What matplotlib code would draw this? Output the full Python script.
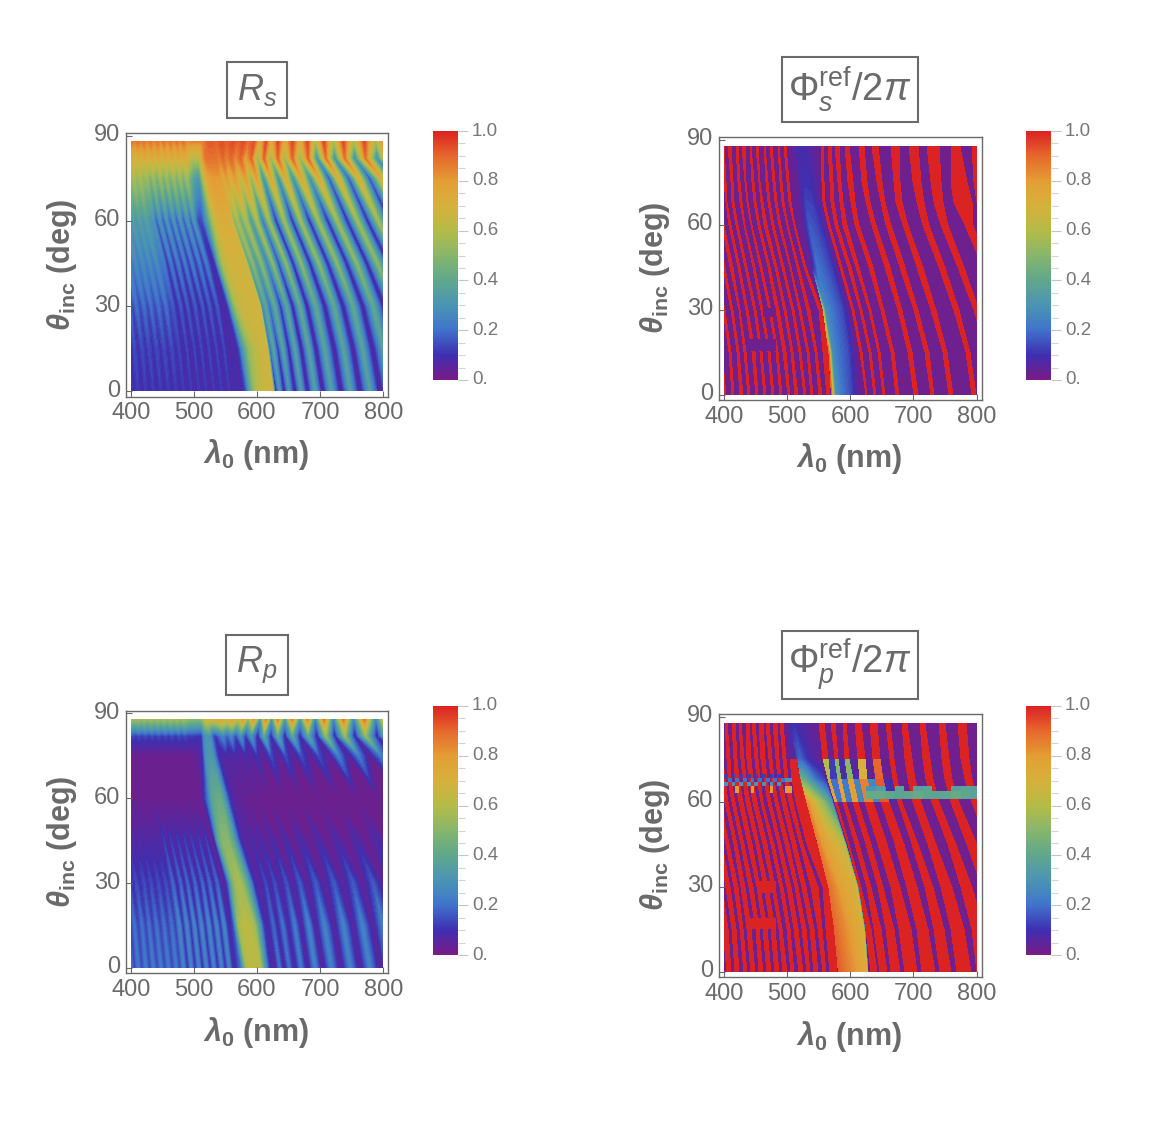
# -*- coding: utf-8 -*-
import numpy as np
import matplotlib
matplotlib.use('Agg')
import matplotlib.pyplot as plt
from matplotlib.cm import ScalarMappable
from matplotlib.colors import LinearSegmentedColormap, Normalize
from matplotlib.patches import Rectangle
from matplotlib.ticker import FixedLocator
from matplotlib.transforms import ScaledTranslation

plt.rcParams['font.family'] = ['Liberation Sans', 'DejaVu Sans']
plt.rcParams['mathtext.fontset'] = 'custom'
plt.rcParams['mathtext.rm'] = 'Liberation Sans'
plt.rcParams['mathtext.it'] = 'Liberation Sans:italic'
plt.rcParams['mathtext.bf'] = 'Liberation Sans:bold'
plt.rcParams['mathtext.bfit'] = 'Liberation Sans:italic:bold'

GREY = '#6a6a6a'

rainbow = ['#781c86', '#3f2fb0', '#3f74cb', '#4b94b4', '#5fa78c', '#87b66c',
           '#b5bb48', '#d6b03c', '#e49e36', '#e5682d', '#dc2323']

# reflectance maps: crest and trough tracks, nm per angle
r_theta = [0, 15, 30, 45, 60, 75, 82, 88]

r_left_wl = [
    [400,406,412,418,424,430,436,442,448,454,460,466,472,478,484,490,496,502,508,514,520,526,532,538,544,550,556,562,568],
    [394,400,406,412,418,424,429,435,441,447,453,459,465,471,477,483,489,495,501,506,512,518,524,530,536,542,548,554,559],
    [386,392,398,403,409,415,421,427,432,438,444,450,456,461,467,473,479,485,490,496,502,508,514,519,525,531,537,543,548],
    [374,380,385,391,396,402,408,413,419,425,430,436,441,447,453,458,464,469,475,481,486,492,497,503,509,514,520,526,531],
    [360,365,371,376,382,387,392,398,403,409,414,419,425,430,436,441,446,452,457,463,468,473,479,484,490,495,500,506,511],
    [352,357,363,368,373,378,384,389,394,399,405,410,415,420,426,431,436,441,447,452,457,462,468,473,478,483,489,494,500],
    [350,355,361,366,371,376,381,387,392,397,402,408,413,418,423,429,434,439,444,450,455,460,465,471,476,481,486,492,497],
    [348,353,358,364,369,374,379,384,390,395,400,405,411,416,421,426,431,437,442,447,452,457,463,468,473,478,483,489,494],
]
r_band_wl = [
    [575,583,590,597,605,612,619,625],
    [563,571,579,587,596,603,610,616],
    [550,555,560,566,573,584,595,605],
    [533,536,540,546,554,563,573,583],
    [514,522,529,536,543,549,555,560],
    [508,514,519,525,530,534,538,542],
    [508,512,516,520,524,527,530,534],
    [511,514,516,518,520,522,524,527],
]
r_right_wl = [
    [629,636,643,651,660,670,680,692,704,718,733,748,763,779,795,812,830,848,866,885,905,927,950,975,1000,1030,1060],
    [620,626,633,641,650,660,670,682,693,707,722,737,752,767,783,800,818,835,853,872,891,913,936,960,985,1014,1044],
    [607,614,620,628,637,647,656,668,679,693,707,722,736,752,767,784,801,818,836,854,873,895,917,941,965,994,1023],
    [587,593,600,607,616,625,634,646,657,670,684,698,712,727,742,758,774,791,808,826,844,865,886,910,933,961,989],
    [563,569,575,583,591,600,609,619,630,643,656,669,683,697,712,727,743,759,775,792,810,830,850,873,895,922,949],
    [546,552,557,565,573,582,590,600,610,622,634,645,657,670,684,698,714,729,745,761,778,797,817,839,860,886,912],
    [540,546,552,559,566,574,582,591,601,611,622,633,644,656,668,681,695,709,723,739,755,772,790,807,825,843,862],
    [536,544,552,561,570,578,586,595,605,614,623,633,644,656,668,680,692,706,721,737,753,770,788,806,825,843,862],
]

rs_vals = [
    [12,8]*7+[12,6]*7+[10]+[5,15,40,55,62,65,66,66]+[5,30,4,30,3,33]+[3,35]*10+[3],
    [14,9]*7+[13,6]*7+[9]+[5,12,35,52,60,64,66,66]+[14,36,8,36,5,36]+[3,37]*10+[3],
    [20,12]*7+[16,7]*7+[8]+[5,15,40,55,64,66,68,66]+[22,38,16,40,8,38]+[4,40]*10+[3],
    [27,20]*7+[22,9]*7+[8]+[8,20,42,58,66,68,68,66]+[35,50,30,50,20,50,10,50]+[5,50]*9+[4],
    [35,30]*7+[30,14]*7+[12]+[15,35,55,68,72,72,72,70]+[45,58,42,58,30,58,18,56]+[6,55]*9+[5],
    [58,52]*7+[55,45]*7+[35]+[30,55,72,78,80,80,80,80]+[72,80,68,80,62,80,50,78]+[25,75]*4+[12,72]*5+[10],
    [72,68]*7+[74,66]*7+[60]+[60,72,84,88,88,88,88,88]+[85,90,84,90,82,90,75,90]+[50,90]*4+[25,88]*5+[25],
    [88,84]*7+[88,82]*7+[84]+[85,85,86,88,90,92,92,92]+[90,94,90,94,90,94,88,94]+[70,95]*4+[55,95]*5+[55],
]
rp_vals = [
    [22,12]*7+[24,8]*7+[10]+[20,55,62,62,60,35,12,6]+[6,20,4,20,4,22]+[3,24]*10+[3],
    [20,11]*7+[25,8]*7+[10]+[15,55,62,62,55,35,12,8]+[8,18,6,20,5,22]+[3,24]*10+[3],
    [14,9]*7+[18,6]*7+[6]+[5,20,42,55,58,40,10,5]+[6,14,5,14,5,15]+[3,16]*10+[3],
    [8,5]*7+[12,4]*7+[5]+[8,25,42,50,50,38,10,5]+[5,8,4,8,3,8]+[2,8]*10+[2],
    [3,2]*14+[3]+[5,20,38,42,42,30,12,8]+[5,4,4,3,3,3]+[2,2]*10+[2],
    [2,2]*14+[3]+[4,10,28,32,30,20,10,8]+[5,8,5,8,5,8,5,10]+[3,14]*4+[3,22]*5+[3],
    [14,11]*14+[12]+[10,10,25,30,30,25,15,10]+[18,25,15,25,12,28,10,30]+[6,38]*4+[5,52]*5+[5],
    [58,52]*14+[50]+[50,55,60,65,70,70,70,70]+[70,78,68,80,60,82,50,84]+[30,88]*4+[22,90]*5+[15],
]

# phase maps: edges of the red and purple stripes, nm per angle
ph_theta = [0, 15, 30, 45, 60, 68, 75, 88]

ph_left_wl = [
    [395,399,404,413,418,426,431,438,443,451,456,463,468,476,481,488,493,501,506,513,518,526,531,538,543,551,556,563,568],
    [390,394,399,408,413,420,425,432,437,445,450,457,462,470,475,482,487,494,499,506,511,519,524,531,536,544,549,556,561],
    [381,385,390,399,403,411,416,423,427,435,440,447,452,459,464,471,476,483,488,495,500,508,512,519,524,532,537,550,556],
    [369,373,378,387,391,399,403,410,415,422,427,433,438,446,450,457,461,469,474,480,485,492,497,504,508,516,520,527,532],
    [357,361,366,374,378,386,390,396,401,408,413,419,424,431,435,442,446,453,458,464,469,476,481,487,491,499,503,510,514],
    [352,356,361,369,373,380,385,391,396,403,407,413,418,425,430,436,440,447,452,458,463,470,474,480,485,492,497,503,507],
    [350,354,358,366,371,378,382,389,393,400,404,411,415,422,427,433,437,444,449,455,459,467,471,477,482,489,493,499,504],
    [347,351,356,363,368,375,379,385,390,397,401,407,412,419,423,429,434,441,445,451,456,463,467,473,478,485,489,495,500],
]
ps_band_wl = [
    [570,573,576,585,600,612],
    [566,568,571,581,596,607],
    [557,559,562,572,586,597],
    [540,544,548,558,570,578],
    [526,530,535,544,554,560],
    [521,525,530,539,548,553],
    [516,521,526,534,544,551],
    [503,508,516,528,540,548],
]
ps_band_vals = [
    [90,60,30,22,14,5],
    [90,55,28,20,14,5],
    [60,30,26,20,14,5],
    [8,12,20,17,12,5],
    [5,10,16,14,10,4],
    [4,9,13,12,8,4],
    [4,6,10,10,7,4],
    [3,4,8,8,5,3],
]
ps_right_wl = [
    [624,628,638,642,652,657,673,679,701,708,727,734,756,764,793,800,826,834,868,876,901,909,941,949,1000],
    [616,620,630,634,644,649,664,670,692,700,718,726,746,754,783,791,815,823,857,865,889,897,929,937,1000],
    [602,607,615,620,629,635,648,655,676,684,701,709,728,737,764,773,796,806,836,846,868,878,907,917,1000],
    [583,588,596,602,609,616,629,637,655,664,679,688,706,716,741,751,771,782,810,821,841,853,879,891,1000],
    [564,569,576,582,589,596,608,616,634,642,657,666,683,693,715,726,744,757,782,796,812,826,848,862,1000],
    [557,562,570,576,583,590,601,609,625,633,648,657,673,684,705,718,733,748,764,794,801,815,837,851,1000],
    [555,560,568,574,581,587,597,605,619,628,642,651,669,680,699,713,728,745,759,787,796,810,831,845,1000],
    [553,559,565,571,576,584,592,600,613,623,635,645,665,678,693,709,722,742,759,775,792,802,830,840,1000],
]
ps_edge_vals = [100, 100, 3, 3, 3, 3, 3]
ps_vals = [[2,100]*14+[v,3,3,3,3,3,3]+[100,2]*12 for v in ps_edge_vals]

pp_band_wl = [
    [581,590,600,610,618,626,628],
    [575,584,594,604,613,621,623],
    [566,574,584,594,602,610,612],
    [549,556,566,575,584,591,593],
    [531,538,547,556,564,570,572],
    [522,528,537,545,553,559,561],
    [516,521,529,537,544,550,552],
    [504,510,520,530,538,545,547],
]
pp_band_vals = [
    [92,88,84,80,76,72,25],
    [90,86,82,78,74,70,25],
    [88,84,78,74,72,68,25],
    [86,80,74,70,66,60,25],
    [84,74,62,52,40,30,20],
    [45,40,30,20,15,12,8],
    [15,18,12,8,6,5,4],
    [8,10,7,5,4,3,3],
]
pp_right_wl = [
    [632,643,647,660,665,680,686,707,713,736,742,761,769,793,801,826,834,861,869,896,904,936,944,1000],
    [625,634,638,650,656,671,677,697,705,725,733,750,760,782,792,814,824,849,859,883,893,923,933,1000],
    [614,618,626,635,643,654,664,680,690,707,719,732,744,762,776,794,808,828,842,861,875,900,914,1000],
    [596,600,608,615,625,634,644,659,671,686,698,709,723,738,754,769,785,802,818,834,850,872,888,1000],
    [576,580,589,594,604,613,623,637,649,662,676,684,700,713,729,742,760,774,792,806,824,842,860,1000],
    [565,570,580,586,596,605,615,628,640,653,667,675,691,704,720,732,750,763,781,795,813,830,848,1000],
    [556,566,576,582,592,600,612,624,636,649,663,671,687,699,715,727,745,758,776,789,807,825,843,1000],
    [550,560,570,578,588,595,607,619,631,643,657,665,681,692,710,720,740,751,771,784,800,819,835,1000],
]
pp_edge_vals = [100, 100, 100, 100, 100, 100, 6]
pp_right_vals = [
    [100,2]*11+[100],
    [100,2]*11+[100],
    [100,2]*11+[100],
    [100,2]*11+[100],
    [75,20,78,22,80,25,85,25,92,10]+[100,2]*6+[100],
    [60,12,50,8,50,6,70,4,90,3,100,2]+[100,2]*5+[100],
    [100,2]*11+[100],
]
pp_vals = [[100,2]*14+[pp_edge_vals[i],3,3,3,3,3,3,3]+pp_right_vals[i] for i in range(7)]

# small patches laid over the stripes
ps_gap_wl = [441, 483]
ps_gap_th = [15.5, 19.5]
ps_gap2_wl = [462, 483]
ps_gap2_th = [27.5, 30.5]
pp_blob_wl = [441, 483]
pp_blob_th = [15, 19]
pp_blob2_wl = [454, 483]
pp_blob2_th = [28, 32]

pp_strip_wl = [625,640,655,670,685,700,715,730,745,760,775,790,800]
pp_strip_th = [61, 64, 65.5]
pp_strip_vals = [
    [42,42,40,38,40,42,40,38,40,42,40,38],
    [30,35,np.nan,38,np.nan,36,38,np.nan,np.nan,36,38,36],
]
pp_dots_wl = [400,406,412,418,424,430,436,442,448,454,460,466,472,478,484,490,496,508]
pp_dots_th = [63, 65.5, 67, 68.5, 70]
pp_dots_vals = [
    [np.nan,np.nan,np.nan,80,np.nan,np.nan,np.nan,80,np.nan,np.nan,np.nan,np.nan,80,np.nan,np.nan,np.nan,80],
    [30,np.nan]*8+[np.nan],
    [np.nan,20]*8+[30],
    [12,np.nan]*8+[np.nan],
]

x_ticks = [400, 500, 600, 700, 800]
y_ticks = [0, 30, 60, 90]
cb_ticks = [0, 0.2, 0.4, 0.6, 0.8, 1.0]
cb_labels = ['0.', '0.2', '0.4', '0.6', '0.8', '1.0']
cb_minor = [0.05, 0.1, 0.15, 0.25, 0.3, 0.35, 0.45, 0.5, 0.55, 0.65, 0.7, 0.75, 0.85, 0.9, 0.95]

W, H = 1152, 1124
fig = plt.figure(figsize=(W/100, H/100), dpi=100)
cmap = LinearSegmentedColormap.from_list('rainbow_m', rainbow, N=256)
levels = np.linspace(0, 1, 65)


def new_axes(left, top, right, bottom):
    return fig.add_axes([left/W, 1-bottom/H, (right-left)/W, (bottom-top)/H])


def mesh_grid(theta, *blocks):
    X = np.hstack([np.array(b, dtype=float) for b in blocks])
    Y = np.tile(np.array(theta, dtype=float)[:, None], (1, X.shape[1]))
    return X, Y


def nudge(labs, dy):
    off = ScaledTranslation(0, dy/100, fig.dpi_scale_trans)
    for lab in labs:
        lab.set_transform(lab.get_transform()+off)


def clip(ax, art):
    art.set_clip_path(Rectangle((400, 0), 400, 88, transform=ax.transData))


def style_panel(ax, cb_left, cb_top):
    ax.set_xlim(392, 808)
    ax.set_ylim(-1.9, 90.9)
    ax.set_xticks(x_ticks)
    ax.set_yticks(y_ticks)
    ax.tick_params(direction='in', length=4, width=0.8, color=GREY, labelcolor=GREY,
                   labelsize=17, pad=4)
    nudge(ax.get_yticklabels(), 3)
    for s in ax.spines.values():
        s.set_color(GREY)
        s.set_linewidth(1.0)
    cax = new_axes(cb_left, cb_top, cb_left+25, cb_top+249)
    cb = fig.colorbar(ScalarMappable(norm=Normalize(0, 1), cmap=cmap), cax=cax)
    cb.outline.set_visible(False)
    cb.set_ticks(cb_ticks, labels=cb_labels)
    cb.ax.yaxis.set_minor_locator(FixedLocator(cb_minor))
    cb.ax.tick_params(which='major', length=7, width=0.8, color='#c4c4c4',
                      labelcolor='#777777', labelsize=13.5, pad=3)
    cb.ax.tick_params(which='minor', length=5, width=0.8, color='#d4d4d4')
    nudge(cb.ax.get_yticklabels(), 2)


def labels(cx, xl_y, yl_x, yl_y):
    fig.text(cx/W, 1-xl_y/H, r'$\mathbfit{\lambda}_{\mathbf{0}}\ \mathbf{(nm)}$', color=GREY,
             fontsize=22, ha='center', va='center')
    fig.text(yl_x/W, 1-yl_y/H, r'$\mathbfit{\theta}_{\mathbf{inc}}\ \mathbf{(deg)}$', color=GREY,
             fontsize=22, ha='center', va='center', rotation=90)


def title_box(left, top, right, bottom, text, size):
    fig.add_artist(Rectangle((left/W, 1-bottom/H), (right-left)/W, (bottom-top)/H,
                             transform=fig.transFigure, fc='white', ec=GREY, lw=1.5))
    fig.text((left+right)/2/W, 1-(top+bottom)/2/H, text, color=GREY, fontsize=size,
             ha='center', va='center')


def patch(ax, wl, th, vals):
    return ax.pcolormesh(wl, th, np.ma.masked_invalid(np.array(vals, dtype=float))/100,
                         cmap=cmap, vmin=0, vmax=1, shading='flat')


def smooth(ax, X, Y, vals):
    cs = ax.contourf(X, Y, np.array(vals)/100, levels=levels, cmap=cmap, vmin=0, vmax=1)
    clip(ax, cs)
    return cs


# R_s
ax1 = new_axes(125.7, 133, 388.3, 396.7)
X, Y = mesh_grid(r_theta, r_left_wl, r_band_wl, r_right_wl)
smooth(ax1, X, Y, rs_vals)
style_panel(ax1, 433, 131)
labels(255.7, 455, 62, 265)
title_box(226.7, 61.7, 287.3, 118.3, r'$R_s$', 26)

# R_p
ax3 = new_axes(125.7, 710.7, 388.3, 973.3)
smooth(ax3, X, Y, rp_vals)
style_panel(ax3, 433, 706)
labels(255.7, 1032, 62, 842)
title_box(225.7, 635, 288.3, 695, r'$R_p$', 26)

# phase s
ax2 = new_axes(719, 137.3, 981.7, 400)
X, Y = mesh_grid(ph_theta, ph_left_wl, ps_band_wl, ps_right_wl)
clip(ax2, patch(ax2, X, Y, ps_vals))
Xb, Yb = mesh_grid(ph_theta, ps_band_wl)
smooth(ax2, Xb, Yb, ps_band_vals)
patch(ax2, ps_gap_wl, ps_gap_th, [[2]])
patch(ax2, ps_gap2_wl, ps_gap2_th, [[2]])
style_panel(ax2, 1026, 131)
labels(849.5, 459, 655, 268)
title_box(781.7, 57.3, 918.3, 121.7, r'$\Phi_{s}^{\mathrm{ref}}/2\pi$', 27.5)

# phase p
ax4 = new_axes(719, 714.3, 981.7, 977.3)
X, Y = mesh_grid(ph_theta, ph_left_wl, pp_band_wl, pp_right_wl)
clip(ax4, patch(ax4, X, Y, pp_vals))
Xb, Yb = mesh_grid(ph_theta, pp_band_wl)
smooth(ax4, Xb, Yb, pp_band_vals)
patch(ax4, pp_blob_wl, pp_blob_th, [[100]])
patch(ax4, pp_blob2_wl, pp_blob2_th, [[100]])
patch(ax4, pp_strip_wl, pp_strip_th, pp_strip_vals)
patch(ax4, pp_dots_wl, pp_dots_th, pp_dots_vals)
style_panel(ax4, 1026, 706)
labels(849.5, 1036, 655, 845)
title_box(781.7, 630.7, 918.3, 699, r'$\Phi_{p}^{\mathrm{ref}}/2\pi$', 27.5)

fig.savefig('out.png', dpi=100)
